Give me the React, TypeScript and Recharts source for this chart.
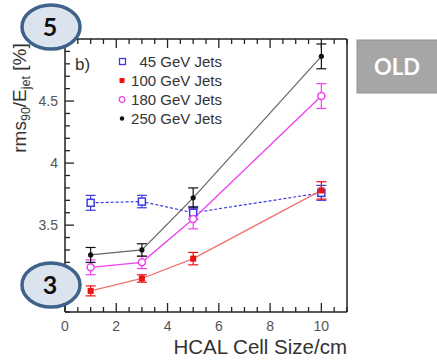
import { LineChart, Line, XAxis, YAxis, ErrorBar } from 'recharts'

// cell sizes in cm
const cellSizes = [1, 3, 5, 10]

const jets45 = [3.68, 3.69, 3.6, 3.76]
const jets45Err = [0.06, 0.05, 0.05, 0.06]
const jets100 = [2.97, 3.07, 3.23, 3.78]
const jets100Err = [0.04, 0.03, 0.05, 0.07]
const jets180 = [3.16, 3.2, 3.55, 4.54]
const jets180Err = [0.06, 0.05, 0.08, 0.1]
const jets250 = [3.26, 3.3, 3.72, 4.86]
const jets250Err = [0.06, 0.05, 0.08, 0.1]

const seriesNames = ['45 GeV Jets', '100 GeV Jets', '180 GeV Jets', '250 GeV Jets']

const xTicks = [0, 0.5, 1, 1.5, 2, 2.5, 3, 3.5, 4, 4.5, 5, 5.5, 6, 6.5, 7, 7.5, 8, 8.5, 9, 9.5, 10, 10.5, 11]
const yTicks = [2.8, 2.9, 3, 3.1, 3.2, 3.3, 3.4, 3.5, 3.6, 3.7, 3.8, 3.9, 4, 4.1, 4.2, 4.3, 4.4, 4.5, 4.6, 4.7, 4.8, 4.9, 5]
// 3 and 5 are shown by the badges instead
const yLabels = [3.5, 4, 4.5]

const data = cellSizes.map((size, i) => ({
  size,
  j45: jets45[i],
  e45: jets45Err[i],
  j100: jets100[i],
  e100: jets100Err[i],
  j180: jets180[i],
  e180: jets180Err[i],
  j250: jets250[i],
  e250: jets250Err[i],
}))

const FONT = '"Liberation Sans", Arial, sans-serif'
const BLUE = '#3a3ae0'
const RED = '#ee1111'
const RED_LINE = '#f07070'
const MAGENTA = '#f040f0'
const BLACK = '#111'
const GREY_LINE = '#666'

const isMultiple = (v: number, step: number) => Math.abs(v / step - Math.round(v / step)) < 1e-6

const XTick = (props: any) => {
  const { x, y, payload, side } = props
  const v = payload.value
  const major = isMultiple(v, 2)
  const len = major ? 9 : 5
  const dir = side === 'top' ? 1 : -1
  return (
    <g>
      <line x1={x} y1={y} x2={x} y2={y + dir * len} stroke="#222" strokeWidth={1.3} />
      {side === 'bottom' && major && (
        <text x={x} y={y + 19} textAnchor="middle" fontSize={14} fill="#555" fontFamily={FONT}>
          {v}
        </text>
      )}
    </g>
  )
}

const YTick = (props: any) => {
  const { x, y, payload, side } = props
  const v = payload.value
  const major = isMultiple(v, 0.5)
  const len = major ? 9 : 5
  const dir = side === 'left' ? 1 : -1
  const showLabel = side === 'left' && yLabels.some((l) => Math.abs(l - v) < 1e-6)
  return (
    <g>
      <line x1={x} y1={y} x2={x + dir * len} y2={y} stroke="#222" strokeWidth={1.3} />
      {showLabel && (
        <text x={x - 7} y={y + 5} textAnchor="end" fontSize={14} fill="#555" fontFamily={FONT}>
          {Math.round(v * 10) / 10}
        </text>
      )}
    </g>
  )
}

const OpenSquare = (p: any) => (
  <rect key={p.key} x={p.cx - 3.5} y={p.cy - 3.5} width={7} height={7} fill="#fff" stroke={BLUE} strokeWidth={1.5} />
)
const FilledSquare = (p: any) => (
  <rect key={p.key} x={p.cx - 3} y={p.cy - 3} width={6} height={6} fill={RED} />
)
const OpenCircle = (p: any) => (
  <circle key={p.key} cx={p.cx} cy={p.cy} r={3.5} fill="#fff" stroke={MAGENTA} strokeWidth={1.5} />
)
const Dot = (p: any) => <circle key={p.key} cx={p.cx} cy={p.cy} r={2.6} fill={BLACK} />

export default function App() {
  const legendMarkers = [
    <rect x={119.5} y={58.5} width={6} height={6} fill="#fff" stroke={BLUE} strokeWidth={1.3} />,
    <rect x={119.5} y={78} width={5} height={5} fill={RED} />,
    <circle cx={122} cy={99.5} r={2.8} fill="#fff" stroke={MAGENTA} strokeWidth={1.2} />,
    <circle cx={122} cy={118.5} r={2.2} fill={BLACK} />,
  ]

  return (
    <div style={{ position: 'absolute', left: 0, top: 0, width: 437, height: 360, background: '#fff', fontFamily: FONT }}>
      <LineChart width={437} height={360} data={data} margin={{ top: 38, right: 89, bottom: 18, left: 25 }}>
        <XAxis
          dataKey="size"
          type="number"
          domain={[0, 11]}
          ticks={xTicks}
          interval={0}
          height={30}
          tickSize={0}
          tickMargin={0}
          axisLine={{ stroke: '#222', strokeWidth: 1.5 }}
          tick={<XTick side="bottom" />}
        />
        <XAxis
          xAxisId="top"
          orientation="top"
          dataKey="size"
          type="number"
          domain={[0, 11]}
          ticks={xTicks}
          interval={0}
          height={1}
          tickSize={0}
          tickMargin={0}
          axisLine={{ stroke: '#222', strokeWidth: 1.5 }}
          tick={<XTick side="top" />}
        />
        <YAxis
          type="number"
          domain={[2.8, 5]}
          ticks={yTicks}
          interval={0}
          width={40}
          tickSize={0}
          tickMargin={0}
          allowDataOverflow
          axisLine={{ stroke: '#222', strokeWidth: 1.5 }}
          tick={<YTick side="left" />}
        />
        <YAxis
          yAxisId="right"
          orientation="right"
          type="number"
          domain={[2.8, 5]}
          ticks={yTicks}
          interval={0}
          width={1}
          tickSize={0}
          tickMargin={0}
          axisLine={{ stroke: '#222', strokeWidth: 1.5 }}
          tick={<YTick side="right" />}
        />
        <Line
          dataKey="j45"
          name={seriesNames[0]}
          stroke={BLUE}
          strokeWidth={1.2}
          strokeDasharray="3 2"
          dot={OpenSquare}
          isAnimationActive={false}
        >
          <ErrorBar dataKey="e45" width={5} stroke={BLUE} strokeWidth={1.2} />
        </Line>
        <Line
          dataKey="j100"
          name={seriesNames[1]}
          stroke={RED_LINE}
          strokeWidth={1.3}
          dot={FilledSquare}
          isAnimationActive={false}
        >
          <ErrorBar dataKey="e100" width={5} stroke={RED} strokeWidth={1.2} />
        </Line>
        <Line
          dataKey="j180"
          name={seriesNames[2]}
          stroke={MAGENTA}
          strokeWidth={1.3}
          dot={OpenCircle}
          isAnimationActive={false}
        >
          <ErrorBar dataKey="e180" width={5} stroke={MAGENTA} strokeWidth={1.2} />
        </Line>
        <Line
          dataKey="j250"
          name={seriesNames[3]}
          stroke={GREY_LINE}
          strokeWidth={1.2}
          dot={Dot}
          isAnimationActive={false}
        >
          <ErrorBar dataKey="e250" width={5} stroke={BLACK} strokeWidth={1.2} />
        </Line>
      </LineChart>

      <svg width={437} height={360} style={{ position: 'absolute', left: 0, top: 0, pointerEvents: 'none' }}>
        <text x={75} y={70} fontSize={17} fill="#333" fontFamily={FONT}>b)</text>
        {seriesNames.map((name, i) => (
          <g key={name}>
            {legendMarkers[i]}
            <text x={222} y={67 + i * 19} textAnchor="end" fontSize={15} fill="#333" fontFamily={FONT}>
              {name}
            </text>
          </g>
        ))}

        <text transform="translate(26,98) rotate(-90)" textAnchor="middle" fontSize={19} fill="#333" fontFamily={FONT}>
          rms<tspan fontSize={12.5} dy={4}>90</tspan>
          <tspan dy={-4}>/E</tspan>
          <tspan fontSize={12.5} dy={4}>jet</tspan>
          <tspan dy={-4}> [%]</tspan>
        </text>

        <text x={347} y={354} textAnchor="end" fontSize={20.5} fill="#333" fontFamily={FONT}>
          HCAL Cell Size/cm
        </text>

        <rect x={357} y={40} width={90} height={53} fill="#a6a6a6" stroke="#909090" strokeWidth={1} />
        <text x={397} y={75} textAnchor="middle" fontSize={22} fontWeight="bold" fill="#fff" fontFamily="Lato, 'Open Sans', sans-serif">
          OLD
        </text>

        <ellipse cx={51} cy={27} rx={29} ry={22} fill="#dbe3ef" stroke="#3f628a" strokeWidth={3.5} />
        <text x={50} y={36} textAnchor="middle" fontSize={25} fontWeight="bold" fill="#111" fontFamily="Lato, 'Open Sans', sans-serif">
          5
        </text>
        <ellipse cx={51} cy={285} rx={29} ry={22} fill="#dbe3ef" stroke="#3f628a" strokeWidth={3.5} />
        <text x={50} y={294} textAnchor="middle" fontSize={25} fontWeight="bold" fill="#111" fontFamily="Lato, 'Open Sans', sans-serif">
          3
        </text>
      </svg>
    </div>
  )
}
